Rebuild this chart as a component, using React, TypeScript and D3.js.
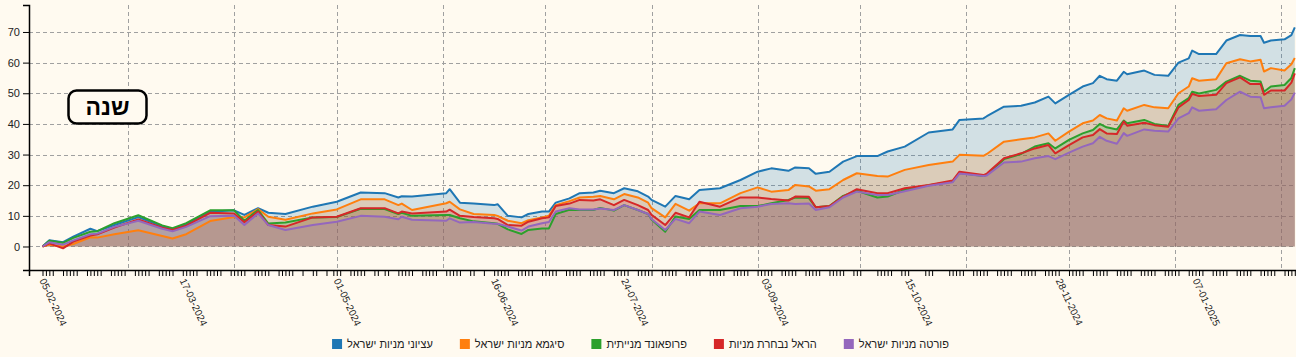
import React, { useEffect, useRef } from "react";
import * as d3 from "d3";

const W = 1296;
const H = 357;
const BG = "#fffaf0";
const FONT = "'Liberation Sans', Arial, sans-serif";

const seriesNames = [
  "עציוני מניות ישראל",
  "סיגמא מניות ישראל",
  "פרופאונד מנייתית",
  "הראל נבחרת מניות",
  "פורטה מניות ישראל",
];
const colors = ["#1f77b4", "#ff7f0e", "#2ca02c", "#d62728", "#9467bd"];

const sampleDates = [
  "2024-02-05", "2024-02-07", "2024-02-11", "2024-02-14", "2024-02-19", "2024-02-21", "2024-02-26",
  "2024-03-04", "2024-03-11", "2024-03-14", "2024-03-18", "2024-03-25", "2024-04-01", "2024-04-04",
  "2024-04-08", "2024-04-11", "2024-04-16", "2024-04-24", "2024-05-01", "2024-05-08", "2024-05-15",
  "2024-05-19", "2024-05-20", "2024-05-23", "2024-06-02", "2024-06-03", "2024-06-06", "2024-06-10",
  "2024-06-16", "2024-06-17", "2024-06-20", "2024-06-24", "2024-06-26", "2024-06-30", "2024-07-02",
  "2024-07-04", "2024-07-08", "2024-07-11", "2024-07-15", "2024-07-17", "2024-07-21", "2024-07-24",
  "2024-07-28", "2024-07-31", "2024-08-01", "2024-08-05", "2024-08-08", "2024-08-12", "2024-08-15",
  "2024-08-21", "2024-08-27", "2024-09-01", "2024-09-05", "2024-09-10", "2024-09-12", "2024-09-16",
  "2024-09-18", "2024-09-22", "2024-09-26", "2024-09-30", "2024-10-06", "2024-10-09", "2024-10-14",
  "2024-10-21", "2024-10-28", "2024-10-30", "2024-11-06", "2024-11-07", "2024-11-12", "2024-11-17",
  "2024-11-21", "2024-11-25", "2024-11-27", "2024-12-01", "2024-12-05", "2024-12-08", "2024-12-10",
  "2024-12-12", "2024-12-15", "2024-12-17", "2024-12-18", "2024-12-23", "2024-12-26", "2024-12-30",
  "2025-01-02", "2025-01-05", "2025-01-06", "2025-01-08", "2025-01-13", "2025-01-16", "2025-01-20",
  "2025-01-23", "2025-01-26", "2025-01-27", "2025-01-29", "2025-02-02", "2025-02-04", "2025-02-05",
];

const etzioni = [
  0, 2.0, 1.4, 3.2, 5.8, 5.0, 7.0,
  9.6, 6.6, 5.6, 7.2, 11.3, 11.8, 10.3,
  12.5, 11.0, 10.6, 13.0, 14.6, 17.6, 17.4,
  16.0, 16.4, 16.3, 17.4, 18.7, 14.3, 14.0,
  13.5, 13.8, 10.0, 9.5, 10.6, 11.4, 11.4,
  14.3, 15.7, 17.4, 17.6, 18.2, 17.4, 19.0,
  18.0, 16.3, 15.2, 13.0, 16.5, 15.4, 18.4,
  19.0, 21.7, 24.4, 25.5, 24.7, 25.8, 25.5,
  23.7, 24.4, 27.7, 29.5, 29.5, 31.0, 32.6,
  37.2, 38.2, 41.3, 41.8, 42.5, 45.6, 45.9,
  47.0, 48.9, 46.7, 49.5, 52.2, 53.3, 55.7,
  54.6, 54.1, 57.0, 56.2, 57.4, 56.0, 55.7,
  60.0, 61.4, 63.9, 62.8, 62.8, 67.2, 69.0,
  68.7, 68.7, 66.5, 67.2, 67.6, 69.0, 71.5,
];
const sigma = [
  0, 0.6, 0.0, 0.8, 3.0, 2.9, 4.0,
  5.3, 3.4, 2.6, 4.0, 8.3, 9.6, 9.5,
  12.2, 9.7, 8.7, 10.8, 12.1, 15.4, 15.4,
  13.5, 14.0, 11.9, 14.1, 14.6, 12.1, 10.6,
  10.3, 10.0, 8.4, 7.6, 8.6, 9.5, 10.0,
  13.5, 14.8, 16.0, 16.2, 16.5, 15.4, 17.1,
  16.0, 14.3, 12.5, 9.5, 13.9, 11.7, 14.1,
  14.1, 17.4, 19.3, 17.9, 18.4, 20.1, 19.6,
  18.2, 18.7, 21.7, 23.9, 23.0, 22.8, 25.0,
  26.6, 27.7, 29.9, 29.6, 30.2, 34.2, 35.0,
  35.6, 36.9, 34.5, 37.5, 40.2, 41.1, 42.9,
  41.8, 41.1, 45.1, 44.3, 46.2, 45.4, 45.1,
  50.0, 52.2, 54.9, 54.1, 54.6, 59.8, 61.1,
  60.4, 60.9, 57.1, 58.2, 57.4, 59.5, 61.5,
];
const profound = [
  0, 1.9, 1.2, 2.8, 4.8, 5.0, 7.6,
  10.2, 6.9, 6.0, 7.6, 11.8, 11.8, 8.4,
  11.9, 7.5, 7.8, 9.5, 9.6, 12.3, 12.2,
  10.6, 11.0, 10.0, 10.3, 10.3, 9.2, 8.2,
  7.6, 7.4, 5.6, 4.1, 5.4, 5.9, 5.9,
  10.6, 12.0, 11.9, 11.9, 12.6, 11.7, 13.5,
  11.9, 10.6, 8.8, 4.8, 9.8, 9.0, 11.9,
  11.9, 13.2, 13.2, 14.1, 15.2, 16.0, 15.8,
  12.8, 13.2, 16.5, 18.2, 16.0, 16.3, 18.5,
  20.0, 21.2, 24.0, 23.0, 23.5, 28.5, 30.2,
  32.6, 33.7, 32.0, 34.8, 36.9, 38.0, 40.0,
  38.9, 38.2, 41.1, 40.2, 41.3, 40.0, 39.3,
  46.2, 48.4, 50.5, 49.9, 51.1, 53.8, 55.7,
  54.1, 53.8, 50.5, 52.2, 52.7, 55.0, 58.2,
];
const harel = [
  0, 1.0, -0.6, 1.6, 3.6, 4.0, 6.2,
  8.8, 6.1, 5.4, 6.8, 11.0, 10.8, 7.9,
  11.4, 7.0, 6.5, 9.5, 9.7, 12.5, 12.5,
  10.8, 11.4, 10.8, 11.4, 12.0, 10.0, 9.6,
  9.2, 9.0, 7.0, 6.8, 8.1, 9.2, 9.5,
  13.2, 14.0, 15.2, 15.0, 15.4, 13.5, 15.2,
  13.5, 11.9, 10.3, 7.0, 11.0, 9.5, 14.6,
  13.0, 16.0, 16.0, 15.5, 15.0, 16.3, 16.2,
  12.8, 13.2, 16.3, 18.7, 17.4, 17.4, 19.0,
  20.1, 21.5, 24.4, 23.3, 23.8, 28.8, 30.4,
  32.0, 33.1, 30.4, 33.1, 35.6, 36.4, 38.3,
  36.9, 36.7, 40.8, 39.4, 40.4, 39.6, 39.1,
  45.4, 47.8, 49.8, 49.1, 49.5, 53.3, 55.2,
  53.0, 53.0, 49.5, 50.9, 50.9, 53.5, 56.5,
];
const forte = [
  0, 1.4, 0.6, 2.0, 4.0, 4.2, 6.4,
  8.4, 5.8, 5.0, 6.4, 9.9, 10.0, 7.0,
  10.8, 7.0, 5.4, 7.0, 8.1, 10.0, 9.7,
  8.9, 9.7, 8.7, 8.4, 9.2, 7.8, 8.0,
  7.4, 7.4, 6.5, 5.2, 6.5, 7.6, 8.0,
  11.4, 12.5, 12.1, 12.1, 12.4, 11.9, 13.5,
  11.9, 10.6, 9.0, 5.4, 9.0, 7.6, 11.4,
  10.3, 12.5, 13.0, 13.9, 14.1, 13.9, 14.0,
  11.9, 12.8, 16.0, 17.9, 16.8, 16.8, 18.0,
  19.8, 21.0, 23.8, 23.0, 23.2, 27.4, 27.7,
  28.8, 29.5, 28.5, 30.6, 32.6, 33.7, 35.8,
  34.5, 33.5, 37.0, 36.1, 38.2, 37.8, 37.5,
  41.8, 43.5, 45.4, 44.3, 44.8, 47.8, 50.5,
  48.9, 48.7, 45.1, 45.4, 45.9, 48.0, 50.2,
];

const xTickLabels = [
  "05-02-2024", "17-03-2024", "01-05-2024", "16-06-2024", "24-07-2024",
  "03-09-2024", "15-10-2024", "28-11-2024", "07-01-2025",
];
const yTicks = [0, 10, 20, 30, 40, 50, 60, 70];
const holidays = [
  "2024-04-22", "2024-04-23", "2024-04-29", "2024-05-14", "2024-06-11", "2024-06-12",
  "2024-10-02", "2024-10-03", "2024-10-16", "2024-10-17", "2024-10-23", "2024-10-24",
];
const periodLabel = "שנה";

const parse = d3.utcParse("%Y-%m-%d");
const parseLabel = d3.utcParse("%d-%m-%Y");
const fmt = d3.utcFormat("%Y-%m-%d");

export default function App() {
  const ref = useRef<SVGSVGElement>(null);

  useEffect(() => {
    document.body.style.margin = "0";
    document.body.style.background = BG;
    const svg = d3.select(ref.current as SVGSVGElement);
    svg.selectAll("*").remove();

    const start = parse(sampleDates[0])!;
    const end = parse(sampleDates[sampleDates.length - 1])!;
    const x = d3.scaleTime().domain([start, end]).range([42.5, 1294.8]);
    const xAxisScale = x.copy().domain([x.invert(29), x.invert(1297)]).range([29, 1297]);
    const y = d3.scaleLinear().domain([-7.67, 78.8]).range([270, 5]);

    const allSeries = [etzioni, sigma, profound, harel, forte].map((vals, i) => ({
      name: seriesNames[i],
      color: colors[i],
      points: sampleDates.map((d, j) => ({ date: parse(d)!, v: vals[j] })),
    }));

    // grid
    const grid = svg.append("g").attr("stroke", "#a0a0a0").attr("stroke-dasharray", "4,3").attr("stroke-width", 1);
    yTicks.forEach((t) => {
      grid.append("line").attr("x1", 29).attr("x2", W).attr("y1", Math.round(y(t)) + 0.5).attr("y2", Math.round(y(t)) + 0.5);
    });
    d3.utcMonth.range(d3.utcMonth.ceil(start), end).forEach((m) => {
      const px = Math.round(x(m)) + 0.5;
      grid.append("line").attr("x1", px).attr("x2", px).attr("y1", 5).attr("y2", 270);
    });

    // areas and lines
    const area = d3
      .area<{ date: Date; v: number }>()
      .x((d) => x(d.date))
      .y0(y(0))
      .y1((d) => y(d.v));
    const line = d3
      .line<{ date: Date; v: number }>()
      .x((d) => x(d.date))
      .y((d) => y(d.v));
    allSeries.forEach((s) => {
      svg.append("path").attr("d", area(s.points)).attr("fill", s.color).attr("fill-opacity", 0.2);
    });
    allSeries.forEach((s) => {
      svg
        .append("path")
        .attr("d", line(s.points))
        .attr("fill", "none")
        .attr("stroke", s.color)
        .attr("stroke-width", 2)
        .attr("stroke-linejoin", "round");
    });

    // y axis
    const gy = svg
      .append("g")
      .attr("transform", "translate(29,0)")
      .call(d3.axisLeft(y).tickValues(yTicks).tickSize(6).tickPadding(3));
    gy.select(".domain").attr("stroke-width", 1.5);
    gy.selectAll("text").attr("font-family", FONT).attr("font-size", 11).attr("fill", "#222");

    // x axis
    const hol = new Set(holidays);
    const days = d3.utcDay
      .range(start, d3.utcDay.offset(end, 1))
      .filter((d) => d.getUTCDay() <= 4 && !hol.has(fmt(d)));
    const gx = svg
      .append("g")
      .attr("transform", "translate(0,270)")
      .call(d3.axisBottom(xAxisScale).tickValues(days).tickSize(6).tickFormat(() => ""));
    gx.select(".domain").attr("stroke-width", 1.5);
    gx.selectAll("text").remove();

    const lbl = svg.append("g").attr("font-family", FONT).attr("font-size", 10).attr("fill", "#222");
    xTickLabels.forEach((t) => {
      const d = parseLabel(t)!;
      lbl
        .append("text")
        .attr("transform", `translate(${x(d)},279) rotate(65)`)
        .attr("text-anchor", "start")
        .attr("dy", "0.35em")
        .text(t);
    });

    // period label box
    const box = svg.append("g");
    box
      .append("rect")
      .attr("x", 68.5)
      .attr("y", 90.5)
      .attr("width", 78)
      .attr("height", 33)
      .attr("rx", 8)
      .attr("fill", BG)
      .attr("stroke", "#000")
      .attr("stroke-width", 2.5);
    box
      .append("text")
      .attr("x", 107.5)
      .attr("y", 107)
      .attr("dy", "0.35em")
      .attr("text-anchor", "middle")
      .attr("font-family", FONT)
      .attr("font-weight", "bold")
      .attr("font-size", 23)
      .attr("fill", "#000")
      .text(periodLabel);

    // legend
    const leg = svg.append("g").attr("font-family", FONT).attr("font-size", 11);
    const items = allSeries.map((s) => {
      const g = leg.append("g");
      g.append("rect").attr("width", 10).attr("height", 10).attr("fill", s.color);
      const tx = g.append("text").attr("x", 15).attr("y", 5).attr("dy", "0.35em").attr("fill", "#222").text(s.name);
      const w = (tx.node() as SVGTextElement).getComputedTextLength();
      return { g, w: 15 + w };
    });
    const gap = 27;
    const total = items.reduce((a, it) => a + it.w, 0) + gap * (items.length - 1);
    let cx = 640.5 - total / 2;
    items.forEach((it) => {
      it.g.attr("transform", `translate(${cx},339)`);
      cx += it.w + gap;
    });
  }, []);

  return <svg ref={ref} width={W} height={H} style={{ display: "block", background: BG }} />;
}
